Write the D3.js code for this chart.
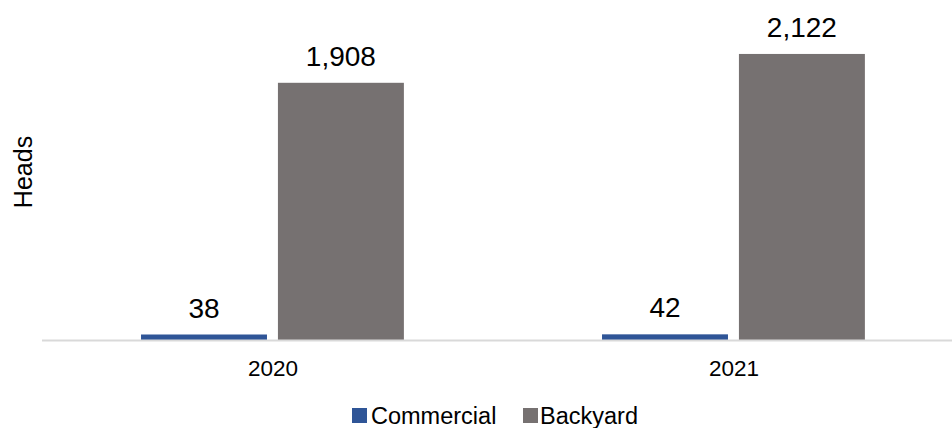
<!DOCTYPE html>
<html>
<head>
<meta charset="utf-8">
<script src="https://cdn.jsdelivr.net/npm/d3@7"></script>
<style>
  html, body { margin: 0; padding: 0; background: #fff; }
  svg { display: block; font-family: "Liberation Sans", Arial, sans-serif; }
</style>
</head>
<body>
<svg id="chart" width="952" height="428"></svg>
<script>
const categories = ["2020", "2021"];
const seriesNames = ["Commercial", "Backyard"];
const commercial = [38, 42];
const backyard = [1908, 2122];
const seriesColors = ["#2F5597", "#767171"];
const yAxisTitle = "Heads";

const values = [commercial, backyard];
const svg = d3.select("#chart");
const W = 952, H = 428;
const baseY = 340;

const x0 = d3.scaleBand().domain(categories).range([42, 964]).paddingInner(0).paddingOuter(0);
const bw = x0.bandwidth();
const x1 = d3.scaleBand().domain(seriesNames).range([bw * 0.2148, bw * 0.785]).paddingInner(0.08).paddingOuter(0);
const y = d3.scaleLinear().domain([0, 2500]).range([baseY, 3]);

// bars
seriesNames.forEach((s, si) => {
  const g = svg.append("g");
  g.selectAll("rect").data(categories).join("rect")
    .attr("x", (c) => x0(c) + x1(s))
    .attr("width", x1.bandwidth())
    .attr("y", (c, i) => Math.min(y(values[si][i]), baseY - 5.5))
    .attr("height", (c, i) => baseY - Math.min(y(values[si][i]), baseY - 5.5))
    .attr("fill", seriesColors[si]);
  g.selectAll("text").data(categories).join("text")
    .attr("x", (c) => x0(c) + x1(s) + x1.bandwidth() / 2)
    .attr("y", (c, i) => y(values[si][i]) - 17)
    .attr("text-anchor", "middle")
    .attr("font-size", 28)
    .attr("fill", "#000")
    .text((c, i) => d3.format(",")(values[si][i]));
});

// axis line
svg.append("line")
  .attr("x1", 42).attr("x2", W)
  .attr("y1", baseY + 0.5).attr("y2", baseY + 0.5)
  .attr("stroke", "#D9D9D9").attr("stroke-width", 2);

// category labels
svg.append("g").selectAll("text").data(categories).join("text")
  .attr("x", (c) => x0(c) + bw / 2 + 0.5)
  .attr("y", 376)
  .attr("text-anchor", "middle")
  .attr("font-size", 22.5)
  .attr("fill", "#000")
  .text((c) => c);

// y axis title
svg.append("text")
  .attr("transform", "translate(32,172) rotate(-90)")
  .attr("text-anchor", "middle")
  .attr("font-size", 25)
  .attr("fill", "#000")
  .text(yAxisTitle);

// legend
const legend = svg.append("g");
const items = [{x: 352, tx: 371}, {x: 523, tx: 540}];
seriesNames.forEach((s, i) => {
  legend.append("rect")
    .attr("x", items[i].x).attr("y", 408)
    .attr("width", 15).attr("height", 15)
    .attr("fill", seriesColors[i]);
  legend.append("text")
    .attr("x", items[i].tx).attr("y", 424)
    .attr("font-size", 23.5)
    .attr("fill", "#000")
    .text(s);
});
</script>
</body>
</html>
